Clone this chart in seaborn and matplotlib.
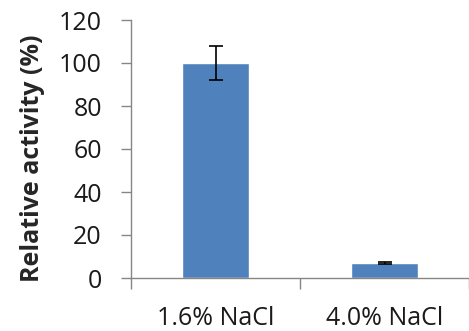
import numpy as np
import pandas as pd
import matplotlib
matplotlib.use("Agg")
import matplotlib.pyplot as plt
import seaborn as sns

# values
conditions = ["1.6% NaCl", "4.0% NaCl"]
activity = [100, 7]
activity_err = [8, 0.5]

sns.set_style("white")
plt.rcParams['font.family'] = ['Open Sans', 'DejaVu Sans']

df = pd.DataFrame({"condition": conditions, "activity": activity})

fig = plt.figure(figsize=(4.69, 3.31), dpi=100)
ax = fig.add_axes([131 / 469, 53 / 331, 338 / 469, 258 / 331])

sns.barplot(data=df, x="condition", y="activity", color="#4F81BD",
            saturation=1, width=0.4, errorbar=None, ax=ax)
ax.errorbar(np.arange(len(conditions)), activity, yerr=activity_err,
            fmt="none", ecolor="black", elinewidth=1.2, capsize=5, capthick=1.2)

ax.set_xlim(-0.5, 1.5)
ax.set_ylim(0, 120)
ax.set_yticks(np.arange(0, 121, 20))
ax.set_xlabel("")
ax.set_ylabel("Relative activity (%)", fontsize=18, fontweight="bold",
              labelpad=10, y=0.465)

for s in ["top", "right"]:
    ax.spines[s].set_visible(False)
for s in ["left", "bottom"]:
    ax.spines[s].set_color("#868686")
    ax.spines[s].set_linewidth(1)

ax.tick_params(axis="y", which="major", left=True, length=7, width=1,
               color="#868686", labelsize=18, labelcolor="#1a1a1a", pad=14)
ax.tick_params(axis="x", which="major", bottom=False, labelsize=18,
               labelcolor="#1a1a1a", pad=17)
ax.set_xticks([-0.5, 0.5, 1.5], minor=True)
ax.tick_params(axis="x", which="minor", bottom=True, length=8, width=1, color="#868686")

fig.savefig("out.png", dpi=100)
